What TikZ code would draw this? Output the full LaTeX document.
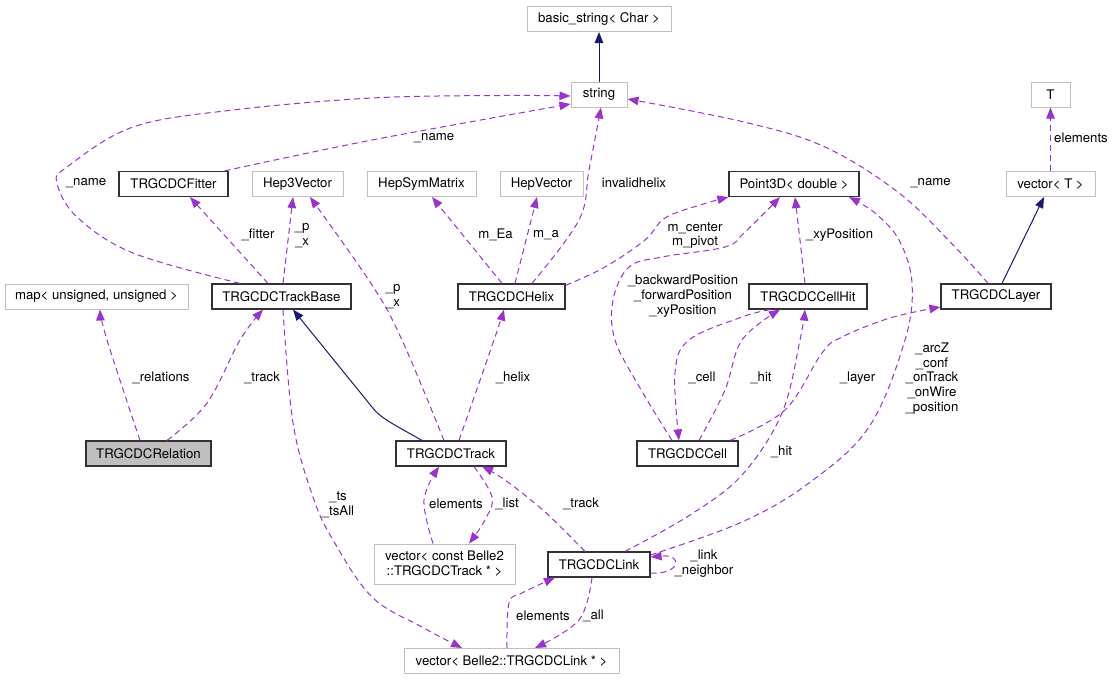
\documentclass[tikz,border=0pt]{standalone}
\usepackage{fontspec}
\setmainfont{TeX Gyre Heros}
\usetikzlibrary{arrows.meta}
\definecolor{edgep}{HTML}{9A32CD}
\definecolor{navyc}{HTML}{191970}
\definecolor{grayb}{HTML}{BFBFBF}
\definecolor{darkb}{HTML}{333333}
\begin{document}
\begin{tikzpicture}[x=1pt,y=-1pt,
  every node/.style={font=\fontsize{13.2}{14.8}\selectfont},
  box/.style={draw, minimum height=25pt, inner sep=0pt, align=center},
  gbox/.style={box, draw=grayb, line width=1pt},
  bbox/.style={box, draw=darkb, line width=1.2pt},
  lbl/.style={inner sep=0pt, align=center},
  usee/.style={draw=edgep, line width=1pt, dash pattern=on 6pt off 4pt, -{Triangle[length=11pt,width=8.5pt]}},
  inh/.style={draw=navyc, line width=1pt, -{Triangle[length=11pt,width=8.5pt]}}]
\useasboundingbox (0,0) rectangle (1114,680);
% nodes
\node[gbox, minimum width=144pt] (basic) at (599,19) {basic\_string< Char >};
\node[gbox, minimum width=56pt] (string) at (599,94.5) {string};
\node[gbox, minimum width=39pt] (T) at (1050.5,94.5) {T};
\node[gbox, minimum width=89pt] (vecT) at (1050.5,184) {vector< T >};
\node[bbox, minimum width=109pt] (fitter) at (173.5,184) {TRGCDCFitter};
\node[gbox, minimum width=91pt] (hep3) at (297.5,184) {Hep3Vector};
\node[gbox, minimum width=109pt] (hepsym) at (421.5,184) {HepSymMatrix};
\node[gbox, minimum width=83pt] (hepvec) at (541.5,184) {HepVector};
\node[bbox, minimum width=130pt] (point) at (794,184) {Point3D< double >};
\node[gbox, minimum width=183pt] (map) at (96.5,296.5) {map< unsigned, unsigned >};
\node[bbox, minimum width=139pt] (tbase) at (281.5,296.5) {TRGCDCTrackBase};
\node[bbox, minimum width=107pt] (helix) at (511.5,296.5) {TRGCDCHelix};
\node[bbox, minimum width=118pt] (cellhit) at (808,296.5) {TRGCDCCellHit};
\node[bbox, minimum width=110pt] (layer) at (996,296.5) {TRGCDCLayer};
\node[bbox, minimum width=125pt, fill=grayb] (relation) at (148.5,453.5) {TRGCDCRelation};
\node[bbox, minimum width=110pt] (track) at (451,453.5) {TRGCDCTrack};
\node[bbox, minimum width=101pt] (cell) at (687.5,453.5) {TRGCDCCell};
\node[gbox, minimum width=141pt, minimum height=40pt] (vct) at (444.5,564) {vector< const Belle2\\::TRGCDCTrack * >};
\node[bbox, minimum width=102pt] (link) at (599,564.5) {TRGCDCLink};
\node[gbox, minimum width=215pt] (vlink) at (511.5,661) {vector< Belle2::TRGCDCLink * >};
% inheritance
\draw[inh] (string.north) -- (basic.south);
\draw[inh] ([xshift=6]layer.north) -- ([xshift=-6.5]vecT.south);
\draw[inh] ([xshift=-29]track.north) .. controls (395,425) and (380,418) .. (372,407) -- ([xshift=11.5]tbase.south);
% usage
\draw[usee] (vecT.north) -- (T.south);
\draw[usee] plot[smooth, tension=0.6] coordinates {([xshift=-8]layer.north) (955,247) (899,193) (825,147) (744,122) ([yshift=-4.5]string.east)};
\draw[usee] plot[smooth, tension=0.6] coordinates {([xshift=-4]fitter.north east) (372,140) ([yshift=-9.5]string.west)};
\draw[usee] plot[smooth, tension=0.6] coordinates {([xshift=-41.5]tbase.north) (133,253) (77,217) (57,183) (67,167) (133,127) (233,110) (372,98) (500,95.5) ([yshift=-1.5]string.west)};
\draw[usee] ([xshift=-13.5]tbase.north) -- ([xshift=16.5]fitter.south);
\draw[usee] ([xshift=1.5]tbase.north) -- ([xshift=-4.5]hep3.south);
\draw[usee] plot[smooth, tension=0.6] coordinates {([xshift=-7]track.north) (402,340) (372,285) ([xshift=12.5]hep3.south)};
\draw[usee] plot[smooth, tension=0.6] coordinates {([xshift=-8.5]relation.north) (107,340) ([xshift=3.5]map.south)};
\draw[usee] plot[smooth, tension=0.6] coordinates {([xshift=18.5]relation.north) (207,403) (240,340) ([xshift=-18.5]tbase.south)};
\draw[usee] plot[smooth, tension=0.6] coordinates {([xshift=1.5]tbase.south) (293,423) (313,497) (333,540) (372,597) (422,627) ([xshift=-49.5]vlink.north)};
\draw[usee] plot[smooth, tension=0.6] coordinates {([xshift=8]track.north) (494,340) ([xshift=-7.5]helix.south)};
\draw[usee] ([xshift=-9.5]helix.north) -- ([xshift=10.5]hepsym.south);
\draw[usee] ([xshift=3.5]helix.north) -- ([xshift=-4.5]hepvec.south);
\draw[usee] plot[smooth, tension=0.6] coordinates {([xshift=20.5]helix.north) (579,220) (589,170) ([xshift=2]string.south)};
\draw[usee] plot[smooth, tension=0.6] coordinates {([yshift=-2]helix.north east) (605,267) (645,240) (665,218) (700,205) (point.south west)};
\draw[usee] plot[smooth, tension=0.6] coordinates {([xshift=-15.5]cell.north) (640,388) (615,340) (613,300) (629,267) (662,257) (725,247) (744,233) ([xshift=-14]point.south)};
\draw[usee] ([xshift=-3]cellhit.north) -- ([xshift=1]point.south);
\draw[usee] plot[smooth, tension=0.6] coordinates {([yshift=9.5]link.east) (742,522) (809,483) (869,427) (905,340) (912,283) (899,240) (875,213) ([xshift=55]point.south)};
\draw[usee] plot[smooth, tension=0.6] coordinates {([xshift=-38]cellhit.south) (742,317) (689,340) (675,373) ([xshift=-8.5]cell.north)};
\draw[usee] plot[smooth, tension=0.6] coordinates {([xshift=11.5]cell.north) (725,390) (742,340) ([xshift=-28]cellhit.south)};
\draw[usee] plot[smooth, tension=0.6] coordinates {([xshift=42.5]cell.north) (785,410) (822,353) (842,337) (890,318) ([yshift=-10.5]layer.west)};
\draw[usee] plot[smooth, tension=0.6] coordinates {([xshift=26]link.north) (690,515) (742,475) (782,413) (800,340) ([xshift=-3]cellhit.south)};
\draw[usee] ([yshift=-8.5]link.east) .. controls (680,575) and (684,554) .. ([yshift=7.5]link.east);
\draw[usee] plot[smooth, tension=0.6] coordinates {([xshift=-14]link.north) (545,512) (505,480) ([xshift=31]track.south)};
\draw[usee] plot[smooth, tension=0.6] coordinates {([xshift=-11.5]vct.north) (424,500) ([xshift=-12]track.south)};
\draw[usee] plot[smooth, tension=0.6] coordinates {([xshift=23]track.south) (492,497) (485,520) ([xshift=24.5]vct.north)};
\draw[usee] plot[smooth, tension=0.6] coordinates {([xshift=-4.5]vlink.north) (509,603) (522,593) ([xshift=-44]link.south)};
\draw[usee] plot[smooth, tension=0.6] coordinates {([xshift=-7]link.south) (579,620) ([xshift=23.5]vlink.north)};
% labels
\node[lbl] (l1) at (1081,138) {elements};
\node[lbl] (l2) at (930.5,183) {\_name};
\node[lbl] (l3) at (434,138) {\_name};
\node[lbl] (l4) at (86,183) {\_name};
\node[lbl] (l5) at (258,235) {\_fitter};
\node[lbl] (l6) at (302,235.5) {\_p\\\_x};
\node[lbl] (l7) at (393,296.5) {\_p\\\_x};
\node[lbl] (l8) at (495.5,235) {m\_Ea};
\node[lbl] (l9) at (546,235) {m\_a};
\node[lbl] (l10) at (634,183) {invalidhelix};
\node[lbl] (l11) at (695,235.5) {m\_center\\m\_pivot};
\node[lbl] (l12) at (839.5,235) {\_xyPosition};
\node[lbl] (l13) at (683,296) {\_backwardPosition\\\_forwardPosition\\\_xyPosition};
\node[lbl] (l14) at (932,378.5) {\_arcZ\\\_conf\\\_onTrack\\\_onWire\\\_position};
\node[lbl] (l15) at (161,378) {\_relations};
\node[lbl] (l16) at (262,378) {\_track};
\node[lbl] (l17) at (513,378) {\_helix};
\node[lbl] (l18) at (702,378) {\_cell};
\node[lbl] (l19) at (761,378) {\_hit};
\node[lbl] (l20) at (857.5,378) {\_layer};
\node[lbl] (l21) at (781.5,452) {\_hit};
\node[lbl] (l22) at (338,504.5) {\_ts\\\_tsAll};
\node[lbl] (l23) at (456,504) {elements};
\node[lbl] (l24) at (507,504) {\_list};
\node[lbl] (l25) at (581,504) {\_track};
\node[lbl] (l26) at (704,564) {\_link\\\_neighbor};
\node[lbl] (l27) at (543,616) {elements};
\node[lbl] (l28) at (593.5,616) {\_all};
\end{tikzpicture}
\end{document}
